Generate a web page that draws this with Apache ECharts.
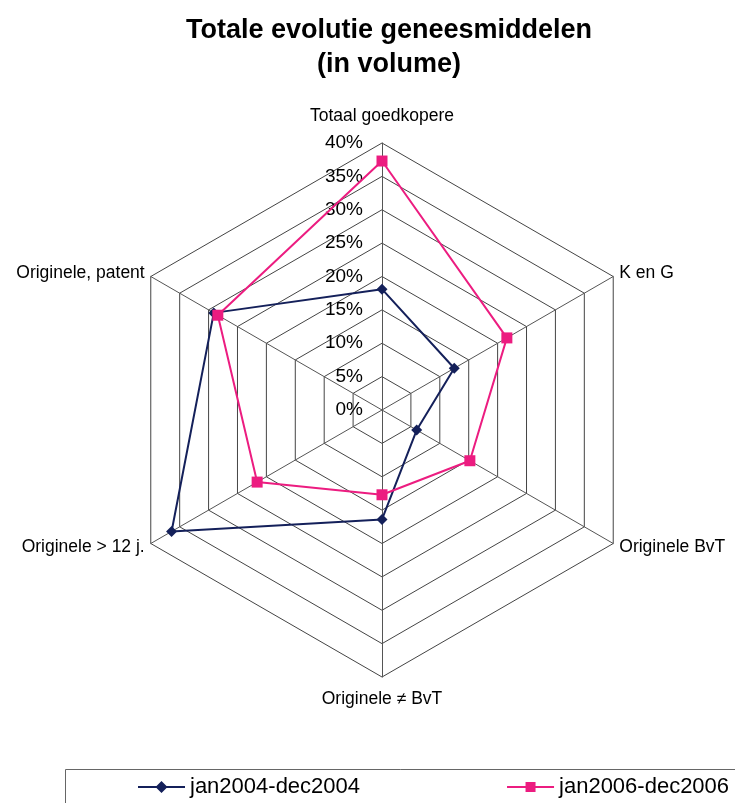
<!DOCTYPE html>
<html><head><meta charset="utf-8">
<script src="https://cdn.jsdelivr.net/npm/echarts@6/dist/echarts.min.js"></script>
<style>html,body{margin:0;padding:0;background:#fff}#c{width:735px;height:803px}</style>
</head><body><div id="c"></div>
<script>
// categories in drawing order (top, then counter-clockwise)
const categories = ['Totaal goedkopere', 'Originele, patent', 'Originele > 12 j.', 'Originele \u2260 BvT', 'Originele BvT', 'K en G'];
const series2004 = [18.1, 29.1, 36.4, 16.4, 6.0, 12.5];
const series2006 = [37.3, 28.4, 21.6, 12.7, 15.2, 21.6];
const seriesNames = ['jan2004-dec2004', 'jan2006-dec2006'];
const axisMax = 40;
const axisSplits = 8;

const NAVY = '#14205a', PINK = '#ec1c80';
const FONT = 'Liberation Sans, Arial, sans-serif';
const iconDiamond = 'path://M0,5 L18.5,5 L23.5,0 L28.5,5 L47,5 L47,7 L28.5,7 L23.5,12 L18.5,7 L0,7 Z';
const iconSquare = 'path://M0,5 L18.5,5 L18.5,1 L28.5,1 L28.5,5 L47,5 L47,7 L28.5,7 L28.5,11 L18.5,11 L18.5,7 L0,7 Z';

const chart = echarts.init(document.getElementById('c'));
chart.setOption({
  backgroundColor: '#ffffff',
  animation: false,
  title: {
    text: 'Totale evolutie geneesmiddelen\n(in volume)',
    left: 384, top: 9,
    textAlign: 'center',
    textStyle: { fontFamily: FONT, fontSize: 27, fontWeight: 'bold', color: '#000', lineHeight: 34 }
  },
  graphic: [{
    type: 'rect', left: 63, top: 767,
    shape: { width: 700, height: 50 },
    style: { fill: 'none', stroke: '#666', lineWidth: 1 }
  }],
  legend: {
    data: [
      { name: seriesNames[0], icon: iconDiamond },
      { name: seriesNames[1], icon: iconSquare }
    ],
    left: 138, top: 776, width: 800, padding: 0,
    itemGap: 147, itemWidth: 47, itemHeight: 12,
    textStyle: { fontFamily: FONT, fontSize: 22, color: '#000' }
  },
  radar: {
    center: [382, 410],
    radius: 267,
    shape: 'polygon',
    splitNumber: axisSplits,
    startAngle: 90,
    indicator: categories.map((n, i) => ({
      name: n, min: 0, max: axisMax,
      axisLabel: { show: i === 0 }
    })),
    axisName: {
      color: '#000', fontFamily: FONT, fontSize: 17.5,
      formatter: (v) => v === categories[0] ? '{t|' + v + '}' : (v === categories[3] ? '{b|' + v + '}' : v),
      rich: {
        t: { fontFamily: FONT, fontSize: 17.5, color: '#000', padding: [0, 0, 11, 0] },
        b: { fontFamily: FONT, fontSize: 17.5, color: '#000', padding: [6, 0, 0, 0] }
      }
    },
    nameGap: 7,
    axisLabel: {
      show: false, color: '#000', fontFamily: FONT, fontSize: 19, margin: 19,
      formatter: v => v + '%'
    },
    axisLine: { lineStyle: { color: '#555', width: 1 } },
    splitLine: { lineStyle: { color: '#444', width: 1 } },
    splitArea: { show: false },
    axisTick: { show: false }
  },
  series: [{
    type: 'radar',
    data: [
      { name: seriesNames[0], value: series2004,
        symbol: 'diamond', symbolSize: 11,
        lineStyle: { color: NAVY, width: 2 },
        itemStyle: { color: NAVY } },
      { name: seriesNames[1], value: series2006,
        symbol: 'rect', symbolSize: 11,
        lineStyle: { color: PINK, width: 2 },
        itemStyle: { color: PINK } }
    ]
  }]
});
</script></body></html>
